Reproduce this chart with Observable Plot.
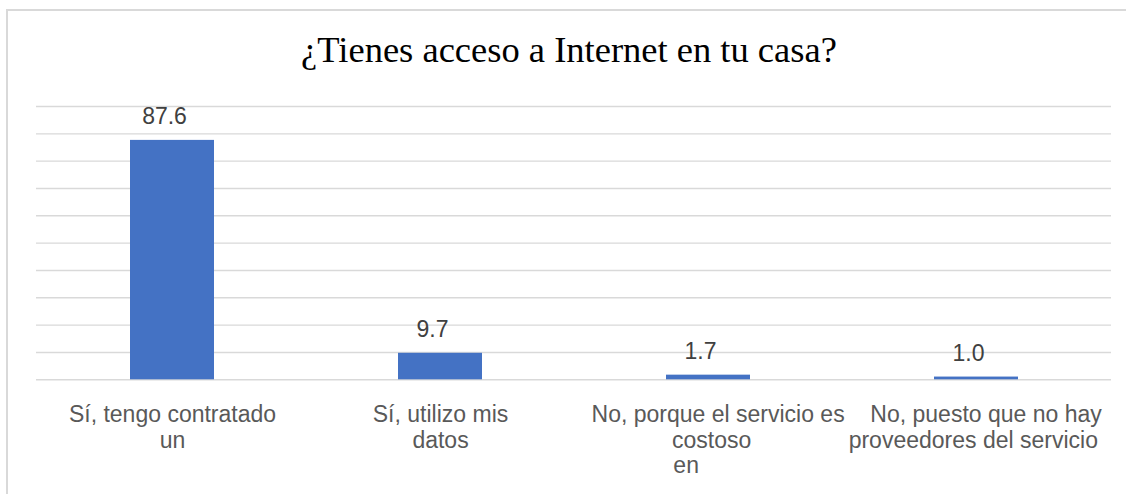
<!DOCTYPE html>
<html>
<head>
<meta charset="utf-8">
<script src="https://cdn.jsdelivr.net/npm/d3@7"></script>
<script src="https://cdn.jsdelivr.net/npm/@observablehq/plot@0.6"></script>
<style>
  html, body { margin: 0; padding: 0; background: #fff; }
  #wrap { position: relative; width: 1126px; height: 494px; overflow: hidden; background: #fff; }
  #frame { position: absolute; left: 6px; top: 9px; width: 1300px; height: 700px;
           border-left: 2px solid #d9d9d9; border-top: 2px solid #d9d9d9; }
  #title { position: absolute; left: 0; top: 28px; width: 1138px; text-align: center;
           font-family: "Liberation Serif", "Times New Roman", serif; font-size: 36.5px;
           color: #000; line-height: 44px; white-space: nowrap; }
  #chart { position: absolute; left: 0; top: 0; }
</style>
</head>
<body>
<div id="wrap">
  <div id="frame"></div>
  <div id="chart"></div>
  <div id="title">¿Tienes acceso a Internet en tu casa?</div>
</div>
<script>
const categories = [
  "Sí, tengo contratado\nun",
  "Sí, utilizo mis\ndatos",
  "\u00a0\u00a0\u00a0No, porque el servicio es\n\u00a0costoso\n\u00a0en\u00a0\u00a0\u00a0\u00a0\u00a0\u00a0\u00a0\u00a0",
  "\u00a0\u00a0\u00a0No, puesto que no hay\nproveedores del servicio\u00a0"
];
const values = [87.6, 9.7, 1.7, 1.0];
const yTicks = [0, 10, 20, 30, 40, 50, 60, 70, 80, 90, 100];

const data = categories.map((c, i) => ({cat: c, value: values[i]}));

const chart = Plot.plot({
  width: 1126,
  height: 494,
  marginLeft: 36,
  marginRight: 15,
  marginTop: 106,
  marginBottom: 114.7,
  style: {fontFamily: "'Liberation Sans', Arial, sans-serif", background: "transparent", overflow: "visible"},
  x: {domain: categories, paddingInner: 0.6874, paddingOuter: 0.3437, axis: null},
  y: {domain: [0, 100], axis: null},
  marks: [
    Plot.ruleY(yTicks, {stroke: "#d9d9d9", strokeWidth: 1.4}),
    Plot.barY(data, {x: "cat", y: "value", fill: "#4472C4"}),
    Plot.text(data, {x: "cat", y: "value", text: d => d.value.toFixed(1),
      lineAnchor: "bottom", dy: -16, dx: -8, fontSize: 23, fill: "#404040"}),
    Plot.text(data, {x: "cat", y: 0, text: "cat", lineAnchor: "top",
      dy: 24.4, fontSize: 23, lineHeight: 1.11, fill: "#595959"})
  ]
});
document.getElementById("chart").appendChild(chart);
</script>
</body>
</html>
